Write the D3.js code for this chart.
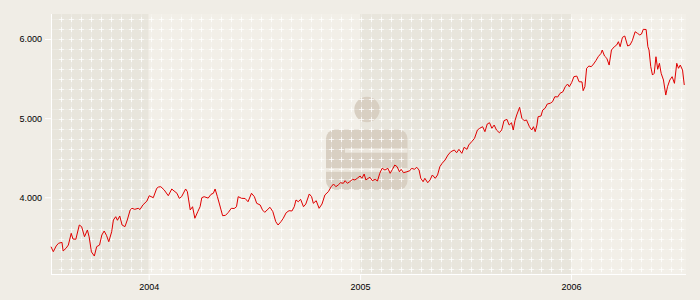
<!DOCTYPE html>
<html><head><meta charset="utf-8">
<script src="https://cdn.jsdelivr.net/npm/d3@7"></script>
<style>
html,body{margin:0;padding:0;background:#f0ede6;}
svg{display:block;font-family:"Liberation Sans",Arial,sans-serif;}
</style>
</head><body>
<svg id="chart" width="700" height="300"></svg>
<script>
// ---- data ----
const dates = [
"2003-07-16","2003-07-20","2003-07-25","2003-07-29","2003-08-04","2003-08-06","2003-08-11","2003-08-15","2003-08-20","2003-08-23",
"2003-08-28","2003-09-03","2003-09-07","2003-09-12","2003-09-17","2003-09-20","2003-09-24","2003-09-29","2003-10-03","2003-10-08",
"2003-10-12","2003-10-16","2003-10-20","2003-10-24","2003-10-29","2003-11-01","2003-11-05","2003-11-08","2003-11-12","2003-11-16",
"2003-11-21","2003-11-25","2003-11-30","2003-12-03","2003-12-08","2003-12-14","2003-12-17","2003-12-22","2003-12-29","2004-01-02",
"2004-01-09","2004-01-15","2004-01-18","2004-01-22","2004-01-28","2004-02-04","2004-02-10","2004-02-14","2004-02-19","2004-02-23",
"2004-02-27","2004-03-05","2004-03-08","2004-03-13","2004-03-17","2004-03-21","2004-03-26","2004-03-30","2004-04-02","2004-04-06",
"2004-04-13","2004-04-18","2004-04-22","2004-04-25","2004-04-29","2004-05-03","2004-05-08","2004-05-13","2004-05-18","2004-05-23",
"2004-05-28","2004-06-01","2004-06-04","2004-06-10","2004-06-16","2004-06-21","2004-06-27","2004-07-02","2004-07-06","2004-07-12",
"2004-07-16","2004-07-20","2004-07-24","2004-07-29","2004-08-03","2004-08-08","2004-08-12","2004-08-17","2004-08-21","2004-08-26",
"2004-08-31","2004-09-05","2004-09-09","2004-09-12","2004-09-16","2004-09-20","2004-09-25","2004-09-29","2004-10-05","2004-10-09",
"2004-10-12","2004-10-17","2004-10-22","2004-10-27","2004-11-01","2004-11-07","2004-11-12","2004-11-16","2004-11-20","2004-11-24",
"2004-11-28","2004-12-03","2004-12-06","2004-12-10","2004-12-14","2004-12-19","2004-12-23","2004-12-27","2005-01-01","2005-01-04",
"2005-01-08","2005-01-11","2005-01-15","2005-01-18","2005-01-22","2005-01-27","2005-01-31","2005-02-04","2005-02-08","2005-02-13",
"2005-02-18","2005-02-22","2005-02-26","2005-03-02","2005-03-06","2005-03-10","2005-03-13","2005-03-17","2005-03-23","2005-03-28",
"2005-03-31","2005-04-05","2005-04-09","2005-04-13","2005-04-16","2005-04-20","2005-04-23","2005-04-28","2005-05-02","2005-05-06",
"2005-05-11","2005-05-15","2005-05-19","2005-05-23","2005-05-28","2005-06-02","2005-06-07","2005-06-13","2005-06-17","2005-06-21",
"2005-06-26","2005-06-30","2005-07-05","2005-07-08","2005-07-13","2005-07-18","2005-07-23","2005-07-27","2005-08-01","2005-08-05",
"2005-08-09","2005-08-13","2005-08-17","2005-08-21","2005-08-25","2005-08-30","2005-09-03","2005-09-07","2005-09-12","2005-09-16",
"2005-09-20","2005-09-23","2005-09-26","2005-09-29","2005-10-04","2005-10-08","2005-10-12","2005-10-16","2005-10-21","2005-10-25",
"2005-10-28","2005-10-31","2005-11-03","2005-11-05","2005-11-10","2005-11-13","2005-11-17","2005-11-21","2005-11-26","2005-11-30",
"2005-12-04","2005-12-09","2005-12-13","2005-12-18","2005-12-22","2005-12-26","2005-12-29","2006-01-02","2006-01-06","2006-01-11",
"2006-01-15","2006-01-20","2006-01-22","2006-01-25","2006-01-28","2006-02-01","2006-02-05","2006-02-09","2006-02-13","2006-02-17",
"2006-02-22","2006-02-24","2006-02-28","2006-03-04","2006-03-08","2006-03-12","2006-03-17","2006-03-21","2006-03-24","2006-03-27",
"2006-03-31","2006-04-04","2006-04-09","2006-04-13","2006-04-17","2006-04-22","2006-04-26","2006-04-30","2006-05-03","2006-05-06",
"2006-05-11","2006-05-14","2006-05-16","2006-05-19","2006-05-22","2006-05-25","2006-05-28","2006-05-31","2006-06-03","2006-06-06",
"2006-06-10","2006-06-14","2006-06-17","2006-06-21","2006-06-25","2006-06-29","2006-07-03","2006-07-06","2006-07-09","2006-07-13",
"2006-07-16"
];
const values = [
3376,3313,3385,3419,3431,3322,3356,3397,3545,3473,
3470,3650,3629,3502,3587,3500,3310,3258,3376,3397,
3524,3574,3520,3439,3565,3713,3755,3710,3764,3650,
3629,3713,3840,3861,3848,3861,3845,3903,3953,4020,
3995,4114,4130,4134,4092,4020,4105,4080,4051,3987,
4008,4105,4071,3840,3881,3735,3818,3881,3995,4008,
3990,4038,4051,4105,4008,3903,3768,3772,3810,3861,
3858,3881,4008,3987,3985,3944,4051,4008,3924,3903,
3840,3810,3840,3874,3818,3692,3650,3692,3735,3805,
3831,3827,3881,3966,3944,3975,3881,3915,4042,4008,
3924,3957,3861,3915,4029,4071,4134,4168,4134,4155,
4184,4177,4210,4177,4197,4227,4219,4240,4269,4240,
4294,4219,4240,4253,4210,4227,4206,4303,4366,4345,
4366,4303,4354,4408,4387,4323,4354,4311,4323,4336,
4366,4354,4379,4345,4240,4197,4240,4184,4219,4282,
4240,4282,4387,4430,4471,4534,4576,4598,4563,4606,
4556,4632,4606,4661,4702,4745,4850,4872,4892,4829,
4926,4942,4872,4913,4850,4816,4850,4968,4985,4913,
4942,4850,4968,5040,5137,4998,4968,4977,4892,4850,
4892,4829,4913,5018,5027,5103,5124,5179,5188,5208,
5271,5268,5314,5334,5397,5431,5397,5448,5524,5532,
5460,5458,5347,5397,5630,5659,5650,5684,5726,5776,
5819,5861,5785,5756,5671,5861,5903,5924,5966,5903,
6021,6038,5912,5924,5978,6092,6072,6051,6063,6122,
6120,5903,5861,5650,5545,5567,5776,5617,5693,5567,
5482,5292,5397,5482,5524,5440,5693,5630,5671,5608,
5419
];
const yTickValues = [4000, 5000, 6000];
const xTickYears = [2004, 2005, 2006];

// ---- layout ----
const W = 700, H = 300;
const mL = 51, mR = 686, mT = 14, mB = 274;
const parse = d3.timeParse("%Y-%m-%d");
const data = dates.map((d, i) => ({ date: parse(d), value: values[i] }));

const x = d3.scaleTime()
  .domain([parse("2003-07-16"), parse("2006-07-19")])
  .range([mL, mR]);
const y = d3.scaleLinear().domain([3031, 6316]).range([mB, mT]);

const de = d3.formatLocale({ decimal: ",", thousands: ".", grouping: [3], currency: ["", " €"] });
const fmt = de.format(",d");

const svg = d3.select("#chart");
svg.append("rect").attr("width", W).attr("height", H).attr("fill", "#f0ede6");

// year bands
const [d0, d1] = x.domain();
const yearStarts = [d0].concat(xTickYears.map(yr => new Date(yr, 0, 1))).concat([d1]);
const bands = d3.pairs(yearStarts).map(([a, b]) => ({ a, b, year: a.getFullYear() }));
svg.append("g").selectAll("rect").data(bands).join("rect")
  .attr("x", d => x(d.a)).attr("y", mT)
  .attr("width", d => x(d.b) - x(d.a)).attr("height", mB - mT)
  .attr("fill", d => d.year % 2 === 1 ? "#e8e5dc" : "#f2efe8");

// logo (watermark)
const logo = svg.append("g").attr("fill", "#d8cfc2");
logo.append("circle").attr("cx", 367).attr("cy", 109.5).attr("r", 12.7);
logo.append("rect").attr("x", 326).attr("y", 129.5).attr("width", 81.5).attr("height", 60.5).attr("rx", 9);
const cut = svg.append("g").attr("fill", "#ebe6dd");
cut.append("rect").attr("x", 345).attr("y", 148.3).attr("width", 62.5).attr("height", 4.4);
cut.append("rect").attr("x", 326).attr("y", 168).attr("width", 81.5).attr("height", 3.8);

// decorative grid
const gx = d3.range(mL + 10, mR, 10);
const gy = d3.range(mT + 5, mB, 10);
const grid = svg.append("g");
grid.selectAll(".v").data(gx).join("line").attr("class", "v")
  .attr("x1", d => d + 0.5).attr("x2", d => d + 0.5).attr("y1", mT).attr("y2", mB)
  .attr("stroke", "#fff").attr("stroke-opacity", 0.2);
grid.selectAll(".h").data(gy).join("line").attr("class", "h")
  .attr("y1", d => d + 0.5).attr("y2", d => d + 0.5).attr("x1", mL).attr("x2", mR)
  .attr("stroke", "#fff").attr("stroke-opacity", 0.2);
const crosses = [];
gx.forEach(cx => gy.forEach(cy => crosses.push([cx, cy])));
grid.append("path")
  .attr("d", crosses.map(([cx, cy]) => `M${cx - 2},${cy + 0.5}h5M${cx + 0.5},${cy - 2}v5`).join(""))
  .attr("stroke", "#fff").attr("stroke-opacity", 0.75).attr("fill", "none");

// axes
const yAxis = d3.axisLeft(y).tickValues(yTickValues).tickFormat(fmt).tickSize(6).tickPadding(3);
const gY = svg.append("g").attr("transform", `translate(${mL},0)`).call(yAxis);
const xAxis = d3.axisBottom(x).tickValues(xTickYears.map(yr => new Date(yr, 0, 1)))
  .tickFormat(d3.timeFormat("%Y")).tickSize(6).tickPadding(4);
const gX = svg.append("g").attr("transform", `translate(0,${mB})`).call(xAxis);
[gY, gX].forEach(g => {
  g.select(".domain").attr("stroke", "#fff");
  g.selectAll(".tick line").attr("stroke", "#fff");
  g.selectAll(".tick text").attr("fill", "#000").style("font-size", "9px")
    .style("font-family", "'Liberation Sans', Arial, sans-serif");
});
gY.select(".domain").attr("d", `M0.5,${mT}V${mB}`);
gX.select(".domain").attr("d", `M${mL},0.5H${mR}`);

// line
svg.append("path").datum(data)
  .attr("fill", "none").attr("stroke", "#e00000").attr("stroke-width", 1)
  .attr("stroke-linejoin", "round")
  .attr("d", d3.line().x(d => x(d.date)).y(d => y(d.value)));
</script>
</body></html>
